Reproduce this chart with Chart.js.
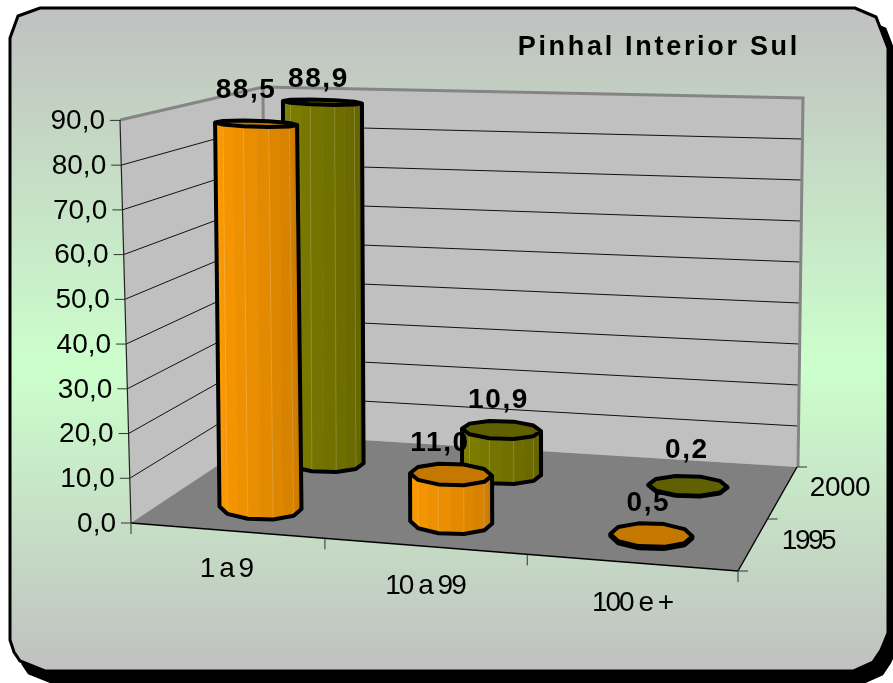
<!DOCTYPE html>
<html>
<head>
<meta charset="utf-8">
<style>html,body{margin:0;padding:0;background:#fff;overflow:hidden}canvas{display:block}</style>
<script src="https://cdn.jsdelivr.net/npm/chart.js@4"></script>
</head>
<body>
<canvas id="c" width="893" height="683"></canvas>
<script>
const categories = ['1 a 9', '10 a 99', '100 e +'];
const seriesNames = ['1995', '2000'];
const values1995 = [88.5, 11.0, 0.5];
const values2000 = [88.9, 10.9, 0.2];
const valueTickLabels = ['0,0','10,0','20,0','30,0','40,0','50,0','60,0','70,0','80,0','90,0'];
const titleText = 'Pinhal Interior Sul';

const FONT = '"Liberation Sans", Arial, sans-serif';
// floor corners of the 3D box
const FL = [131,523], FR = [738,571], BL = [265,434], BR = [797,467];
const TOPBACK_L = [263,87], TOPBACK_R = [803,98], TOPFRONT_L = [120,120];
const lerp = (a,b,t)=>a+(b-a)*t;
const warp = u => u - 0.016*Math.sin(Math.PI*u);
function floorPt(u,w){
  const uu = warp(u);
  const fx = lerp(FL[0],FR[0],uu), fy = lerp(FL[1],FR[1],uu);
  const bx = lerp(BL[0],BR[0],uu), by = lerp(BL[1],BR[1],uu);
  return [lerp(fx,bx,w), lerp(fy,by,w)];
}
const depthStyle = [
  {w:0.25,k:0.97,rx:41,ry:12,lean:0.55,shiftL:3,shiftR:1,light:[255,156,0],dark:[196,118,0],top:'#c47800'},
  {w:0.75,k:0.905,rx:39.5,ry:10,lean:0.2,shiftL:6,shiftR:1,light:[130,130,0],dark:[94,94,0],top:'#606000'}
];
const labelNudge = [[[-10,-33],[-11,-31],[-3,-32]],[[-4,-23],[-3,-30],[-1,-35]]];

function ring(cx,cy,rx,ry,N){
  const pts=[];
  for(let j=0;j<N;j++){
    const t=j*2*Math.PI/N, c=Math.cos(t), s=Math.sin(t);
    pts.push([cx+rx*c, cy+ry*s+0.03*rx*c]);
  }
  return pts;
}
function panelPath(ctx,dx,dy){
  const p=[[10,38],[18,16],[40,8],[855,8],[876,17],[888,48],[888,633],[881,650],[873,662],[853,671],[45,671],[20,661],[14,652],[10,640]];
  ctx.beginPath();
  p.forEach((q,i)=> i?ctx.lineTo(q[0]+dx,q[1]+dy):ctx.moveTo(q[0]+dx,q[1]+dy));
  ctx.closePath();
}
function line(ctx,a,b){ctx.beginPath();ctx.moveTo(a[0],a[1]);ctx.lineTo(b[0],b[1]);ctx.stroke();}

function drawCylinder(ctx,base,top,st,ryTop,rx){
  const N=10, half=5;
  const B=ring(base[0],base[1],rx,st.ry,N), T=ring(top[0],top[1],rx,ryTop,N);
  const strips = 2;
  for(let j=0;j<half;j++){
    for(let q=0;q<strips;q++){
      const a=q/strips,b=(q+1)/strips;
      const t=(j+(a+b)/2)/half; // j=0 is the right side
      const col=st.light.map((v,i)=>Math.round(lerp(st.dark[i],v,Math.pow(t,0.8))));
      ctx.fillStyle='rgb('+col.join(',')+')';
      const bl=[lerp(B[j][0],B[j+1][0],a),lerp(B[j][1],B[j+1][1],a)];
      const br=[lerp(B[j][0],B[j+1][0],b),lerp(B[j][1],B[j+1][1],b)];
      const tl=[lerp(T[j][0],T[j+1][0],a),lerp(T[j][1],T[j+1][1],a)];
      const tr=[lerp(T[j][0],T[j+1][0],b),lerp(T[j][1],T[j+1][1],b)];
      ctx.beginPath();ctx.moveTo(bl[0],bl[1]);ctx.lineTo(br[0],br[1]);ctx.lineTo(tr[0],tr[1]);ctx.lineTo(tl[0],tl[1]);ctx.closePath();
      ctx.fill();
      ctx.strokeStyle='rgb('+col.join(',')+')';ctx.lineWidth=0.6;ctx.stroke();
    }
    ctx.strokeStyle='rgba(255,255,255,0.16)';ctx.lineWidth=1;
    if(j>0) line(ctx,B[j],T[j]);
  }
  ctx.beginPath();
  T.forEach((p,i)=> i?ctx.lineTo(p[0],p[1]):ctx.moveTo(p[0],p[1]));
  ctx.closePath();
  ctx.fillStyle=st.top;ctx.fill();
  ctx.lineJoin='round';ctx.strokeStyle='#000';ctx.lineWidth=4;ctx.stroke();
  ctx.beginPath();
  ctx.moveTo(T[0][0],T[0][1]);
  for(let j=0;j<=half;j++)ctx.lineTo(B[j][0],B[j][1]);
  ctx.lineTo(T[half][0],T[half][1]);
  ctx.stroke();
}

const scene3d = {
  id:'scene3d',
  beforeDraw(chart){
    const ctx=chart.ctx;
    ctx.save();
    ctx.fillStyle='#fff';ctx.fillRect(0,0,893,683);
    panelPath(ctx,9,12);ctx.fillStyle='#000';ctx.fill();
    ctx.lineWidth=3;ctx.strokeStyle='#000';ctx.stroke();
    const g=ctx.createLinearGradient(0,8,0,671);
    g.addColorStop(0,'#c0c0c0');g.addColorStop(0.543,'#ccffcc');g.addColorStop(1,'#c0c0c0');
    panelPath(ctx,0,0);ctx.fillStyle=g;ctx.fill();
    ctx.lineWidth=3;ctx.strokeStyle='#000';ctx.stroke();
    ctx.restore();
    ctx.letterSpacing='2.7px';
  },
  beforeDatasetsDraw(chart){
    const ctx=chart.ctx, y=chart.scales.y;
    ctx.letterSpacing='0px';
    ctx.save();
    ctx.lineCap='butt';
    const y0=y.getPixelForValue(0), y90=y.getPixelForValue(90);
    ctx.fillStyle='#c0c0c0';
    ctx.beginPath();ctx.moveTo(FL[0],FL[1]);ctx.lineTo(TOPFRONT_L[0],TOPFRONT_L[1]);ctx.lineTo(TOPBACK_L[0],TOPBACK_L[1]);ctx.lineTo(TOPBACK_R[0],TOPBACK_R[1]);ctx.lineTo(BR[0],BR[1]);ctx.lineTo(BL[0],BL[1]);ctx.closePath();ctx.fill();
    ctx.fillStyle='#808080';
    ctx.beginPath();ctx.moveTo(FL[0],FL[1]);ctx.lineTo(FR[0],FR[1]);ctx.lineTo(BR[0],BR[1]);ctx.lineTo(BL[0],BL[1]);ctx.closePath();ctx.fill();
    const axisX=v=>lerp(FL[0],TOPFRONT_L[0],v/90);
    y.ticks.forEach((tk,i)=>{
      const v=tk.value, py=y.getPixelForValue(v), t=(y0-py)/(y0-y90);
      const ax=axisX(v);
      const bk=[lerp(BL[0],TOPBACK_L[0],t),lerp(BL[1],TOPBACK_L[1],t)];
      const rt=[lerp(BR[0],TOPBACK_R[0],t),lerp(BR[1],TOPBACK_R[1],t)];
      if(i>0&&i<y.ticks.length-1){
        ctx.strokeStyle='#111';ctx.lineWidth=1;
        ctx.beginPath();ctx.moveTo(ax,py);ctx.lineTo(bk[0],bk[1]);ctx.lineTo(rt[0],rt[1]);ctx.stroke();
      }
      ctx.strokeStyle='#333';ctx.lineWidth=1;
      line(ctx,[ax-10,py],[ax,py]);
      ctx.fillStyle='#000';ctx.font='28px '+FONT;ctx.textAlign='right';ctx.textBaseline='middle';
      ctx.fillText(valueTickLabels[i],ax-15,py+1);
    });
    ctx.strokeStyle='#858585';ctx.lineWidth=3;ctx.lineJoin='miter';
    ctx.beginPath();ctx.moveTo(TOPFRONT_L[0],TOPFRONT_L[1]);ctx.lineTo(TOPBACK_L[0],TOPBACK_L[1]);ctx.lineTo(TOPBACK_R[0],TOPBACK_R[1]);ctx.lineTo(BR[0]+1,BR[1]);ctx.stroke();
    line(ctx,TOPBACK_L,BL);
    ctx.strokeStyle='#222';ctx.lineWidth=1.2;
    line(ctx,TOPFRONT_L,FL);
    ctx.strokeStyle='#000';ctx.lineWidth=1.4;
    line(ctx,FL,FR);line(ctx,FR,BR);
    ctx.strokeStyle='#333';ctx.lineWidth=1;
    for(let i=0;i<=categories.length;i++){
      const p=floorPt(i/categories.length,0);
      line(ctx,p,[p[0],p[1]+11]);
    }
    for(let i=0;i<=seriesNames.length;i++){
      const p=floorPt(1,i/seriesNames.length);
      line(ctx,p,[p[0]+10,p[1]]);
    }
    ctx.fillStyle='#000';ctx.font='28px '+FONT;ctx.textAlign='center';ctx.textBaseline='middle';
    ctx.letterSpacing='-2px';
    const catPos=[[226,569],[425,586],[632,603]];
    categories.forEach((c,i)=>ctx.fillText(c,catPos[i][0],catPos[i][1]));
    const depPos=[[808,541],[840,488]], depSpacing=['-2.5px','-0.5px'];
    seriesNames.forEach((c,i)=>{ctx.letterSpacing=depSpacing[i];ctx.fillText(c,depPos[i][0],depPos[i][1]);});
    ctx.letterSpacing='0px';
    const tops=[[],[]];
    [1,0].forEach(di=>{
      const st=depthStyle[di], meta=chart.getDatasetMeta(di);
      meta.data.forEach((el,i)=>{
        const u=(i+0.5)/categories.length;
        const b=floorPt(u,st.w);
        b[0]+=lerp(st.shiftL,st.shiftR,u);
        const h=(el.base-el.y)*st.k;
        const frac=(el.base-el.y)/(y0-y90);
        const lean=frac*lerp(-11,6,u)*st.lean;
        const top=[b[0]+lean,b[1]-h];
        const ryTop=st.ry*(1-0.76*frac);
        drawCylinder(ctx,b,top,st,ryTop,st.rx);
        tops[di][i]=top;
      });
    });
    ctx.fillStyle='#000';ctx.font='bold 28px '+FONT;ctx.textAlign='center';ctx.textBaseline='middle';
    ctx.letterSpacing='1.6px';
    [0,1].forEach(di=>{
      chart.data.datasets[di].data.forEach((v,i)=>{
        const t=tops[di][i], n=labelNudge[di][i];
        ctx.fillText(v.toFixed(1).replace('.',','),t[0]+n[0],t[1]+n[1]);
      });
    });
    ctx.letterSpacing='0px';
    ctx.restore();
    return false;
  }
};

new Chart(document.getElementById('c'),{
  type:'bar',
  data:{
    labels:categories,
    datasets:[
      {label:seriesNames[0],data:values1995,backgroundColor:'#ff9900',borderColor:'#000'},
      {label:seriesNames[1],data:values2000,backgroundColor:'#808000',borderColor:'#000'}
    ]
  },
  options:{
    responsive:false,animation:false,
    layout:{padding:{left:120,right:93,top:0,bottom:160}},
    scales:{
      x:{display:false},
      y:{display:false,min:0,max:90,ticks:{stepSize:10}}
    },
    plugins:{
      legend:{display:false},
      tooltip:{enabled:false},
      title:{display:true,text:titleText,align:'end',color:'#000',
        font:{family:FONT,size:27,weight:'bold'},padding:{top:31,bottom:57}}
    }
  },
  plugins:[scene3d]
});
</script>
</body>
</html>
